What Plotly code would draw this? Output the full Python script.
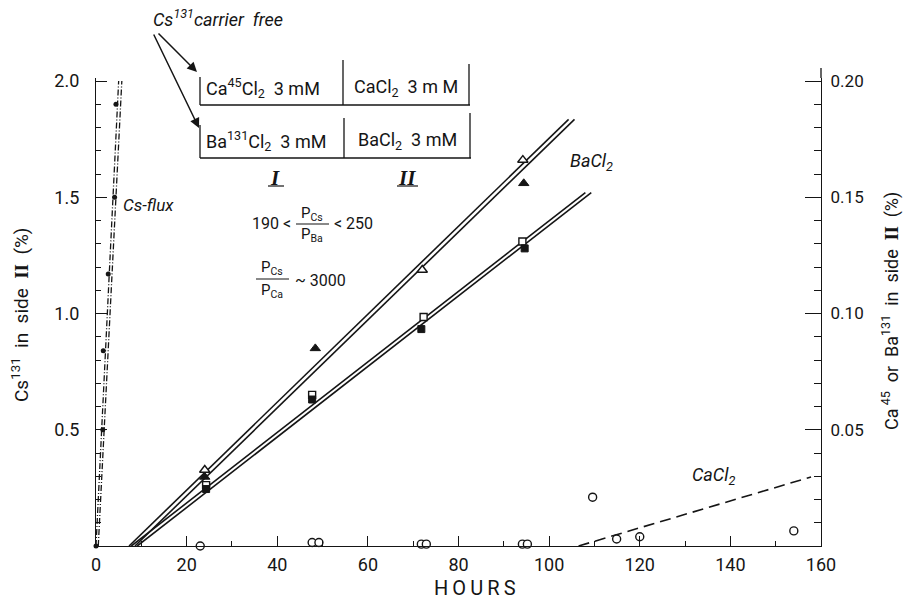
import plotly.graph_objects as go

# ---------------- data ----------------
# Cs131 flux (left axis, % in side II)
cs_hours = [0.0, 1.5, 1.6, 2.7, 4.1, 4.4]
cs_vals = [0.0, 0.50, 0.84, 1.17, 1.50, 1.90]
cs_fit_a_h = [0.0, 5.0]
cs_fit_a_v = [0.0, 2.0]
cs_fit_b_h = [0.5, 5.7]
cs_fit_b_v = [0.0, 2.0]

# Ba131 (right axis, %) : triangles and squares
tri_open_h = [24.0, 72.0, 94.2]
tri_open_v = [0.0327, 0.1187, 0.166]
tri_fill_h = [24.0, 48.4, 94.4]
tri_fill_v = [0.0297, 0.085, 0.156]
sq_open_h = [24.3, 47.7, 72.3, 94.1]
sq_open_v = [0.0262, 0.065, 0.0985, 0.131]
sq_fill_h = [24.3, 47.7, 71.8, 94.6]
sq_fill_v = [0.0245, 0.063, 0.0933, 0.128]
ba_tri_fit_h = [7.3, 104.3]
ba_tri_fit_v = [0.0, 0.1835]
ba_sq_fit_h = [7.8, 108.0]
ba_sq_fit_v = [0.0, 0.152]

# Ca45 (right axis, %) : open circles and dashed fit
ca_h = [23.0, 47.7, 49.2, 71.8, 72.9, 94.1, 95.2, 109.6, 114.9, 120.0, 154.0]
ca_v = [0.0, 0.0015, 0.0015, 0.0008, 0.0008, 0.0008, 0.0008, 0.021, 0.003, 0.004, 0.0065]
ca_fit_h = [106.5, 157.8]
ca_fit_v = [0.0, 0.0297]

x_ticks = [0, 20, 40, 60, 80, 100, 120, 140, 160]
y_left_ticks = [0.5, 1.0, 1.5, 2.0]
y_left_text = ["0.5", "1.0", "1.5", "2.0"]
y_right_ticks = [0.05, 0.10, 0.15, 0.20]
y_right_text = ["0.05", "0.10", "0.15", "0.20"]

# ---------------- layout geometry ----------------
W, H = 903, 599
L, R, T, B = 96, 821, 78, 546
PW, PH = R - L, B - T
Y_TOP = 2.0 * (B - T) / (B - 81)


def px(x):
    return (x - L) / PW


def py(y):
    return (B - y) / PH


INK = "#151515"
FONT = "Roboto"

fig = go.Figure()

# Cs flux
for hh, vv in [(cs_fit_a_h, cs_fit_a_v), (cs_fit_b_h, cs_fit_b_v)]:
    fig.add_trace(go.Scatter(x=hh, y=vv, mode="lines",
                             line=dict(color=INK, width=1.3, dash="6px,2px,1px,2px"),
                             showlegend=False, hoverinfo="skip"))
fig.add_trace(go.Scatter(x=cs_hours, y=cs_vals, mode="markers",
                         marker=dict(symbol="circle", size=5, color=INK),
                         showlegend=False, cliponaxis=False))

# Ba double lines
for hh, vv in [(ba_tri_fit_h, ba_tri_fit_v), (ba_sq_fit_h, ba_sq_fit_v)]:
    for off in (0.0, 1.3):
        fig.add_trace(go.Scatter(x=[h + off for h in hh], y=vv, mode="lines",
                                 line=dict(color=INK, width=1.6),
                                 yaxis="y2", showlegend=False, hoverinfo="skip"))

# Ca dashed
fig.add_trace(go.Scatter(x=ca_fit_h, y=ca_fit_v, mode="lines",
                         line=dict(color=INK, width=1.6, dash="11px,6px"),
                         yaxis="y2", showlegend=False, hoverinfo="skip"))

# markers
fig.add_trace(go.Scatter(x=ca_h, y=ca_v, mode="markers", yaxis="y2",
                         marker=dict(symbol="circle", size=8, color="white",
                                     line=dict(color=INK, width=1.4)),
                         showlegend=False, cliponaxis=False))
fig.add_trace(go.Scatter(x=tri_open_h, y=tri_open_v, mode="markers", yaxis="y2",
                         marker=dict(symbol="triangle-up", size=9, color="white",
                                     line=dict(color=INK, width=1.4)),
                         showlegend=False))
fig.add_trace(go.Scatter(x=tri_fill_h, y=tri_fill_v, mode="markers", yaxis="y2",
                         marker=dict(symbol="triangle-up", size=9, color=INK,
                                     line=dict(color=INK, width=1)),
                         showlegend=False))
fig.add_trace(go.Scatter(x=sq_open_h, y=sq_open_v, mode="markers", yaxis="y2",
                         marker=dict(symbol="square", size=7, color="white",
                                     line=dict(color=INK, width=1.4)),
                         showlegend=False))
fig.add_trace(go.Scatter(x=sq_fill_h, y=sq_fill_v, mode="markers", yaxis="y2",
                         marker=dict(symbol="square", size=7, color=INK,
                                     line=dict(color=INK, width=1)),
                         showlegend=False))

ann = []
shapes = []


def text(x, y, s, size=16, italic=False, family=FONT, xanchor="center", angle=0, color=INK):
    ann.append(dict(x=px(x), y=py(y), xref="paper", yref="paper", text=s,
                    showarrow=False, xanchor=xanchor, yanchor="middle",
                    textangle=angle,
                    font=dict(family=family, size=size, color=color,
                              style="italic" if italic else "normal")))


def seg(x0, y0, x1, y1, w=1.3):
    shapes.append(dict(type="line", xref="paper", yref="paper",
                       x0=px(x0), y0=py(y0), x1=px(x1), y1=py(y1),
                       line=dict(color=INK, width=w)))


# axis titles
text(20, 315, "Cs<sup>131</sup>  in  side  <span style='font-family:Liberation Serif'><b>II</b></span>  (%)",
     size=19, angle=-90)
text(890, 311, "Ca<sup> 45</sup>  or  Ba<sup>131</sup>  in  side  <span style='font-family:Liberation Serif'><b>II</b></span>  (%)",
     size=18, angle=-90)
text(475, 588, "H\u2009O\u2009U\u2009R\u2009S", size=20)

# curve labels
text(121, 205, "Cs-flux", size=17, italic=True, xanchor="left")
text(568, 162, "BaCl<sub>2</sub>", size=18, italic=True, xanchor="left")
text(690, 476, "CaCl<sub>2</sub>", size=18, italic=True, xanchor="left")

# carrier free + arrows
text(218, 18, "Cs<sup>131</sup>carrier  free", size=18, italic=True)
for hx, hy, tx, ty in [(197, 72, 157, 32), (199, 128, 153, 33)]:
    ann.append(dict(x=px(hx), y=py(hy), xref="paper", yref="paper", text="",
                    showarrow=True, arrowhead=2, arrowsize=1.3, arrowwidth=1.5,
                    arrowcolor=INK, ax=tx - hx, ay=ty - hy))

# table
seg(200, 105, 470, 105)
seg(200, 77, 200, 105)
seg(343, 60, 343, 105)
seg(469, 64, 469, 105)
seg(200, 158, 471, 158)
seg(200, 125, 200, 158)
seg(344, 118, 344, 158)
seg(470, 113, 470, 158)
text(204, 88, "Ca<sup>45</sup>Cl<sub>2</sub>  3 mM", size=18, xanchor="left")
text(352, 88, "CaCl<sub>2</sub>  3 m M", size=18, xanchor="left")
text(204, 141, "Ba<sup>131</sup>Cl<sub>2</sub>  3 mM", size=18, xanchor="left")
text(356, 141, "BaCl<sub>2</sub>  3 mM", size=18, xanchor="left")
text(275, 178, "<b>I</b>", size=21, italic=True, family="Liberation Serif")
text(407, 178, "<b>II</b>", size=21, italic=True, family="Liberation Serif")
seg(268, 186, 284, 186, w=1.2)
seg(397, 186, 418, 186, w=1.2)

# permeability ratios
text(250, 223, "190 <", size=16, xanchor="left")
text(312, 214, "P<sub>Cs</sub>", size=15)
seg(296, 224, 329, 224, w=1.1)
text(312, 235, "P<sub>Ba</sub>", size=15)
text(332, 223, "< 250", size=16, xanchor="left")
text(272, 268, "P<sub>Cs</sub>", size=15)
seg(256, 279, 289, 279, w=1.1)
text(272, 291, "P<sub>Ca</sub>", size=15)
text(293, 280, "~ 3000", size=16, xanchor="left")

# right axis line extension above plot
shapes.append(dict(type="line", xref="paper", yref="paper", x0=1, x1=1,
                   y0=1, y1=py(68), line=dict(color=INK, width=1.3)))

fig.update_layout(
    width=W, height=H,
    margin=dict(l=L, r=W - R, t=T, b=H - B, pad=0),
    paper_bgcolor="white", plot_bgcolor="white",
    showlegend=False,
    font=dict(family=FONT, size=17, color=INK),
    annotations=ann, shapes=shapes,
    xaxis=dict(range=[0, 160], tickvals=x_ticks, ticks="inside", ticklen=10,
               tickwidth=1.3, tickcolor=INK, showline=True, linecolor=INK,
               linewidth=1.3, showgrid=False, zeroline=False,
               ticklabelstandoff=2,
               tickfont=dict(size=18),
               minor=dict(dtick=10, ticks="inside", ticklen=5, tickcolor=INK,
                          tickwidth=1.2, showgrid=False)),
    yaxis=dict(range=[0, Y_TOP], tickvals=y_left_ticks, ticktext=y_left_text,
               ticks="inside", ticklen=11, tickwidth=1.3, tickcolor=INK,
               showline=True, linecolor=INK, linewidth=1.3, showgrid=False,
               zeroline=False, ticklabelstandoff=12, tickfont=dict(size=18),
               minor=dict(dtick=0.1, tick0=0, ticks="inside", ticklen=5,
                          tickcolor=INK, tickwidth=1.2, showgrid=False)),
    yaxis2=dict(range=[0, Y_TOP / 10], overlaying="y", side="right",
                tickvals=y_right_ticks, ticktext=y_right_text,
                ticks="inside", ticklen=16, tickwidth=1.3, tickcolor=INK,
                showline=True, linecolor=INK, linewidth=1.3, showgrid=False,
                zeroline=False, ticklabelstandoff=5, tickfont=dict(size=17),
                minor=dict(dtick=0.01, tick0=0, ticks="inside", ticklen=7,
                           tickcolor=INK, tickwidth=1.2, showgrid=False)),
)

fig.write_html("out.html",
               config={"displayModeBar": False},
               post_script="document.body.style.margin='0';"
                           "document.body.style.overflow='hidden';")
